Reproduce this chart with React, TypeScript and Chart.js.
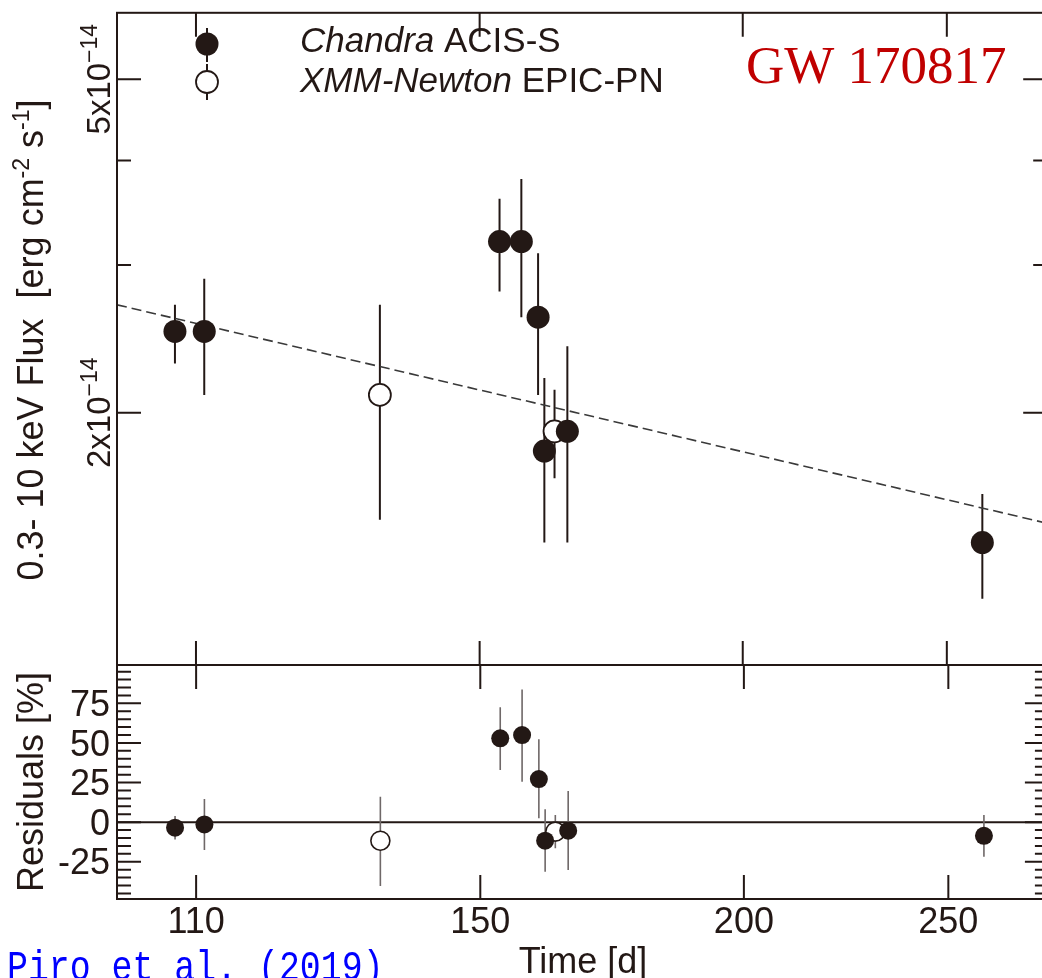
import React, { useEffect, useRef } from "react";
import { Chart, registerables } from "chart.js";

Chart.register(...registerables);

// ---- Data (flux in units of 1e-14 erg cm^-2 s^-1, time in days) ----
const chandraTime = [107.5, 111.0, 153.3, 157.0, 159.9, 161.0, 165.1, 259.9];
const chandraFlux = [2.5, 2.5, 3.2, 3.2, 2.6, 1.8, 1.9, 1.4];
const chandraFluxHi = [2.69, 2.89, 3.6, 3.8, 3.1, 2.2, 2.4, 1.6];
const chandraFluxLo = [2.29, 2.1, 2.79, 2.6, 2.1, 1.4, 1.4, 1.2];

const xmmTime = [134.5, 162.8];
const xmmFlux = [2.1, 1.9];
const xmmFluxHi = [2.69, 2.13];
const xmmFluxLo = [1.49, 1.67];

const fitTime = [100.9, 279];
const fitFlux = [2.69, 1.476];

const chandraResid = [-3.5, -1.4, 52.9, 55.0, 27.2, -11.7, -5.4, -8.6];
const chandraResidHi = [3.9, 14.6, 72.5, 83.8, 52.3, 8.1, 19.6, 4.5];
const chandraResidLo = [-10.9, -17.6, 32.9, 25.5, 2.4, -31.3, -30.2, -21.8];
const xmmResid = [-11.7, -6.0];
const xmmResidHi = [16.0, 4.5];
const xmmResidLo = [-40.3, -16.5];

const timeTicks = [110, 150, 200, 250];
const fluxMajorTicks = [2, 5];
const fluxMinorTicks = [3, 4];
const fluxTickMantissa = ["2x10", "5x10"];
const residMajorTicks = [-25, 0, 25, 50, 75];
const residMinorTicks = [-45, -40, -35, -30, -20, -15, -10, -5, 5, 10, 15, 20, 30, 35, 40, 45, 55, 60, 65, 70, 80, 85, 90, 95];
const residTickLabels = ["-25", "0", "25", "50", "75"];

const W = 1060;
const H = 978;
const INK = "#231815";
const SANS = '"Liberation Sans", Arial, sans-serif';

type Part = { text: string; font: string; rise?: number };

function drawRich(ctx: CanvasRenderingContext2D, parts: Part[], cx: number, cy: number, rot: number, align: "left" | "center" | "right") {
  ctx.save();
  ctx.translate(cx, cy);
  ctx.rotate(rot);
  let total = 0;
  for (const p of parts) {
    ctx.font = p.font;
    total += ctx.measureText(p.text).width;
  }
  let x = align === "center" ? -total / 2 : align === "right" ? -total : 0;
  ctx.textAlign = "left";
  ctx.textBaseline = "alphabetic";
  for (const p of parts) {
    ctx.font = p.font;
    ctx.fillText(p.text, x, -(p.rise || 0));
    x += ctx.measureText(p.text).width;
  }
  ctx.restore();
}

function drawFrame(chart: any, yMajor: number[], yMinor: number[]) {
  const { ctx, chartArea: a, scales } = chart;
  const xs = scales.x;
  const ys = scales.y;
  ctx.save();
  ctx.strokeStyle = INK;
  ctx.lineWidth = 2;
  ctx.strokeRect(a.left, a.top, a.right - a.left, a.bottom - a.top);
  ctx.beginPath();
  for (const t of timeTicks) {
    const px = xs.getPixelForValue(t);
    ctx.moveTo(px, a.top);
    ctx.lineTo(px, a.top + 24);
    ctx.moveTo(px, a.bottom);
    ctx.lineTo(px, a.bottom - 24);
  }
  for (const v of yMajor) {
    const py = ys.getPixelForValue(v);
    ctx.moveTo(a.left, py);
    ctx.lineTo(a.left + 24, py);
    ctx.moveTo(a.right, py);
    ctx.lineTo(a.right - 24, py);
  }
  for (const v of yMinor) {
    const py = ys.getPixelForValue(v);
    ctx.moveTo(a.left, py);
    ctx.lineTo(a.left + 14, py);
    ctx.moveTo(a.right, py);
    ctx.lineTo(a.right - 14, py);
  }
  ctx.stroke();
  ctx.restore();
}

function drawErrorBars(chart: any, times: number[], lo: number[], hi: number[], color: string, width: number) {
  const { ctx, chartArea: a, scales } = chart;
  ctx.save();
  ctx.beginPath();
  ctx.rect(a.left, a.top, a.right - a.left, a.bottom - a.top);
  ctx.clip();
  ctx.strokeStyle = color;
  ctx.lineWidth = width;
  ctx.beginPath();
  times.forEach((t, i) => {
    const px = scales.x.getPixelForValue(t);
    ctx.moveTo(px, scales.y.getPixelForValue(hi[i]));
    ctx.lineTo(px, scales.y.getPixelForValue(lo[i]));
  });
  ctx.stroke();
  ctx.restore();
}

const topPlugin = {
  id: "topDecor",
  beforeDatasetsDraw(chart: any) {
    drawErrorBars(chart, chandraTime, chandraFluxLo, chandraFluxHi, INK, 2);
    drawErrorBars(chart, xmmTime, xmmFluxLo, xmmFluxHi, INK, 2);
  },
  afterDraw(chart: any) {
    const { ctx, scales } = chart;
    drawFrame(chart, fluxMajorTicks, fluxMinorTicks);
    ctx.save();
    // legend symbols
    ctx.strokeStyle = INK;
    ctx.lineWidth = 2;
    ctx.beginPath();
    ctx.moveTo(207, 28);
    ctx.lineTo(207, 62);
    ctx.moveTo(207, 64);
    ctx.lineTo(207, 100);
    ctx.stroke();
    ctx.fillStyle = INK;
    ctx.beginPath();
    ctx.arc(207, 44, 11.5, 0, Math.PI * 2);
    ctx.fill();
    ctx.fillStyle = "#fff";
    ctx.lineWidth = 1.8;
    ctx.beginPath();
    ctx.arc(207, 82, 11, 0, Math.PI * 2);
    ctx.fill();
    ctx.stroke();
    // legend text
    ctx.fillStyle = INK;
    drawRich(ctx, [
      { text: "Chandra", font: `italic 35px ${SANS}` },
      { text: " ACIS-S", font: `35px ${SANS}` },
    ], 300, 52, 0, "left");
    drawRich(ctx, [
      { text: "XMM-Newton", font: `italic 35px ${SANS}` },
      { text: " EPIC-PN", font: `35px ${SANS}` },
    ], 300, 92, 0, "left");
    // GW label
    ctx.fillStyle = "#c00000";
    ctx.font = '53px "Liberation Serif", "Times New Roman", serif';
    ctx.textAlign = "left";
    ctx.textBaseline = "alphabetic";
    ctx.fillText("GW 170817", 746, 83);
    // y tick labels
    ctx.fillStyle = INK;
    fluxMajorTicks.forEach((v, i) => {
      drawRich(ctx, [
        { text: fluxTickMantissa[i], font: `33px ${SANS}` },
        { text: "\u221214", font: `23px ${SANS}`, rise: 13 },
      ], 110, scales.y.getPixelForValue(v), -Math.PI / 2, "center");
    });
    // y axis title
    drawRich(ctx, [
      { text: "0.3- 10 keV Flux  [erg cm", font: `36px ${SANS}` },
      { text: "-2", font: `23px ${SANS}`, rise: 14 },
      { text: " s", font: `36px ${SANS}` },
      { text: "-1", font: `23px ${SANS}`, rise: 14 },
      { text: "]", font: `36px ${SANS}` },
    ], 43, 340, -Math.PI / 2, "center");
    ctx.restore();
  },
};

const bottomPlugin = {
  id: "bottomDecor",
  beforeDatasetsDraw(chart: any) {
    const { ctx, chartArea: a, scales } = chart;
    ctx.save();
    ctx.strokeStyle = INK;
    ctx.lineWidth = 2;
    const y0 = scales.y.getPixelForValue(0);
    ctx.beginPath();
    ctx.moveTo(a.left, y0);
    ctx.lineTo(a.right, y0);
    ctx.stroke();
    ctx.restore();
    drawErrorBars(chart, chandraTime, chandraResidLo, chandraResidHi, "#6f6868", 1.6);
    drawErrorBars(chart, xmmTime, xmmResidLo, xmmResidHi, "#6f6868", 1.6);
  },
  afterDraw(chart: any) {
    const { ctx, scales } = chart;
    drawFrame(chart, residMajorTicks, residMinorTicks);
    ctx.save();
    ctx.fillStyle = INK;
    ctx.textBaseline = "alphabetic";
    ctx.font = `36px ${SANS}`;
    ctx.textAlign = "center";
    for (const t of timeTicks) {
      ctx.fillText(String(t), scales.x.getPixelForValue(t), 933);
    }
    ctx.fillText("Time [d]", 583, 973);
    ctx.textAlign = "right";
    residMajorTicks.forEach((v, i) => {
      ctx.fillText(residTickLabels[i], 110, scales.y.getPixelForValue(v) + 12.7);
    });
    drawRich(ctx, [{ text: "Residuals [%]", font: `36px ${SANS}` }], 43, 782, -Math.PI / 2, "center");
    // citation
    ctx.save();
    ctx.translate(7, 980);
    ctx.scale(0.83, 1);
    ctx.fillStyle = "#0000ff";
    ctx.font = '42px "Liberation Mono", "Courier New", monospace';
    ctx.textAlign = "left";
    ctx.fillText("Piro et al. (2019)", 0, 0);
    ctx.restore();
    ctx.restore();
  },
};

function pts(xs: number[], ys: number[]) {
  return xs.map((x, i) => ({ x, y: ys[i] }));
}

export default function App() {
  const refA = useRef<HTMLCanvasElement>(null);
  const refB = useRef<HTMLCanvasElement>(null);

  useEffect(() => {
    const common = (padTop: number, padBottom: number) => ({
      responsive: false,
      devicePixelRatio: 1,
      animation: false as const,
      events: [] as any,
      layout: { padding: { left: 117, right: W - 1049, top: padTop, bottom: H - padBottom } },
      plugins: { legend: { display: false }, tooltip: { enabled: false }, title: { display: false } },
    });

    const chartA = new Chart(refA.current as HTMLCanvasElement, {
      type: "scatter",
      data: {
        datasets: [
          {
            label: "Chandra ACIS-S",
            data: pts(chandraTime, chandraFlux),
            pointRadius: 11.5,
            pointHoverRadius: 11.5,
            pointBackgroundColor: INK,
            pointBorderColor: INK,
            pointBorderWidth: 0,
            order: 0,
          },
          {
            label: "XMM-Newton EPIC-PN",
            data: pts(xmmTime, xmmFlux),
            pointRadius: 11,
            pointHoverRadius: 11,
            pointBackgroundColor: "#ffffff",
            pointBorderColor: INK,
            pointBorderWidth: 1.8,
            order: 1,
          },
          {
            type: "line",
            label: "fit",
            data: pts(fitTime, fitFlux),
            borderColor: "#3a3a3a",
            borderWidth: 1.6,
            borderDash: [10, 5],
            pointRadius: 0,
            fill: false,
            order: 2,
          } as any,
        ],
      },
      options: {
        ...common(11, 665),
        scales: {
          x: { type: "logarithmic", min: 100.9, max: 279, bounds: "data", display: false },
          y: { type: "logarithmic", min: 1, max: 6, bounds: "data", display: false },
        },
      } as any,
      plugins: [topPlugin],
    });

    const chartB = new Chart(refB.current as HTMLCanvasElement, {
      type: "scatter",
      data: {
        datasets: [
          {
            label: "Chandra ACIS-S",
            data: pts(chandraTime, chandraResid),
            pointRadius: 9,
            pointHoverRadius: 9,
            pointBackgroundColor: INK,
            pointBorderColor: INK,
            pointBorderWidth: 0,
            order: 0,
          },
          {
            label: "XMM-Newton EPIC-PN",
            data: pts(xmmTime, xmmResid),
            pointRadius: 9.5,
            pointHoverRadius: 9.5,
            pointBackgroundColor: "#ffffff",
            pointBorderColor: INK,
            pointBorderWidth: 1.6,
            order: 1,
          },
        ],
      },
      options: {
        ...common(665, 899),
        scales: {
          x: { type: "logarithmic", min: 100.9, max: 279, bounds: "data", display: false },
          y: { type: "linear", min: -48.5, max: 99.2, bounds: "data", display: false },
        },
      } as any,
      plugins: [bottomPlugin],
    });

    return () => {
      chartA.destroy();
      chartB.destroy();
    };
  }, []);

  return (
    <div style={{ position: "absolute", left: 0, top: 0, width: 1042, height: 978, overflow: "hidden", background: "#ffffff" }}>
      <canvas ref={refA} width={W} height={H} style={{ position: "absolute", left: 0, top: 0 }} />
      <canvas ref={refB} width={W} height={H} style={{ position: "absolute", left: 0, top: 0 }} />
    </div>
  );
}
